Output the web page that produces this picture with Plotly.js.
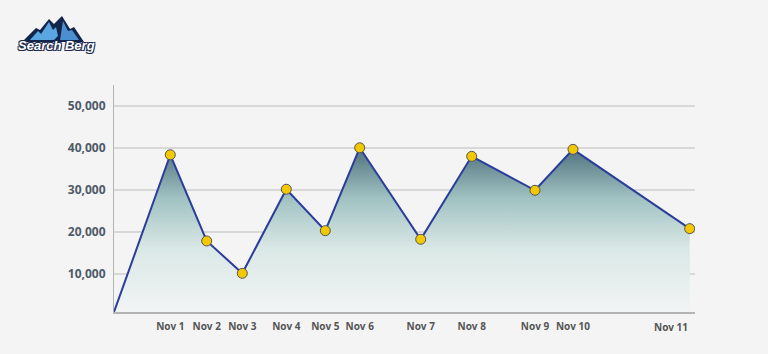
<!DOCTYPE html>
<html>
<head>
<meta charset="utf-8">
<script src="https://cdn.plot.ly/plotly-3.0.1.min.js"></script>
<style>
html,body{margin:0;padding:0;background:#f4f4f4;}
#chart{width:768px;height:354px;}
</style>
</head>
<body>
<div id="chart"></div>
<script>
// ---- data ----
var dayLabels = ["", "Nov 1", "Nov 2", "Nov 3", "Nov 4", "Nov 5", "Nov 6", "Nov 7", "Nov 8", "Nov 9", "Nov 10", "Nov 11"];
var timeOffset = [0, 56.3, 92.7, 128.3, 172.3, 211.3, 245.7, 306.7, 357.7, 421, 459, 575.7];
var visits = [1000, 38400, 17900, 10200, 30200, 20350, 40070, 18300, 38030, 29950, 39690, 20830];
var yTicks = [10000, 20000, 30000, 40000, 50000];

// ---- geometry helpers for the logo (decoration only) ----
var L = 114, R = 695, T = 85, B = 312;
function px(x){ return (x - L) / (R - L); }
function py(y){ return (B - y) / (B - T); }
function path(pts){
  return pts.map(function(p, i){ return (i ? 'L' : 'M') + px(p[0]).toFixed(4) + ',' + py(p[1]).toFixed(4); }).join(' ') + ' Z';
}

var markerX = timeOffset.slice(1), markerY = visits.slice(1);
var tickX = timeOffset.slice(1, 11), tickT = dayLabels.slice(1, 11);

var traces = [
  {
    x: timeOffset, y: visits, type: 'scatter', mode: 'lines',
    line: {color: '#2a3d9c', width: 2},
    fill: 'tozeroy',
    fillgradient: {
      type: 'vertical',
      colorscale: [[0, 'rgb(243,245,245)'], [0.4, 'rgb(218,232,230)'], [0.7, 'rgb(160,194,194)'], [1, 'rgb(78,113,124)']]
    },
    hoverinfo: 'skip', showlegend: false
  },
  {
    x: markerX, y: markerY, type: 'scatter', mode: 'markers',
    marker: {color: '#f3c800', size: 10, line: {color: '#555555', width: 1}},
    showlegend: false
  }
];

var tickFont = {family: 'Open Sans, Arial, sans-serif', size: 10, color: '#555', weight: 700};

var annotations = [
  {
    text: 'Search Berg', xref: 'paper', yref: 'paper', x: px(57), y: py(45.5),
    xanchor: 'center', yanchor: 'middle', showarrow: false,
    font: {family: 'Liberation Sans, Arial, sans-serif', size: 13, color: '#ffffff', weight: 700, style: 'italic',
           shadow: '1px 1px 0 #1b2a4e, -1px -1px 0 #1b2a4e, 1px -1px 0 #1b2a4e, -1px 1px 0 #1b2a4e'}
  },
  {
    text: dayLabels[11], xref: 'x', yref: 'paper', x: timeOffset[11], y: 0,
    xanchor: 'right', yanchor: 'top', yshift: -6, showarrow: false,
    font: tickFont
  }
];

var shapes = [
  {type: 'path', xref: 'paper', yref: 'paper', layer: 'above',
   path: path([[22,42],[36,28],[40,30],[49,19],[54,24],[62,16],[70,29],[74,27],[84,42]]),
   fillcolor: '#13254a', line: {width: 0}},
  {type: 'path', xref: 'paper', yref: 'paper', layer: 'above',
   path: path([[30,40],[38,31],[41,34],[49,22],[53,30],[56,27],[58,36],[54,40]]),
   fillcolor: '#5aa6e0', line: {width: 0}},
  {type: 'path', xref: 'paper', yref: 'paper', layer: 'above',
   path: path([[60,40],[63,21],[68,31],[72,30],[79,40]]),
   fillcolor: '#4c8fd0', line: {width: 0}}
];

var layout = {
  width: 768, height: 354,
  margin: {l: L, r: 768 - R, t: T, b: 354 - B, pad: 0},
  paper_bgcolor: '#f4f4f4', plot_bgcolor: '#f4f4f4',
  showlegend: false,
  xaxis: {
    range: [0, R - L], showgrid: false, zeroline: false,
    showline: true, linecolor: '#b4b4b4', linewidth: 2,
    tickmode: 'array', tickvals: tickX, ticktext: tickT,
    ticks: 'outside', ticklen: 4, tickcolor: 'rgba(0,0,0,0)',
    tickfont: tickFont, fixedrange: true
  },
  yaxis: {
    range: [1000, 55000], zeroline: false,
    showline: true, linecolor: '#b4b4b4', linewidth: 1,
    showgrid: true, gridcolor: '#d8d8d8', gridwidth: 1.5,
    tickmode: 'array', tickvals: yTicks, tickformat: ',',
    ticks: 'outside', ticklen: 5, tickcolor: 'rgba(0,0,0,0)',
    tickfont: {family: 'Open Sans, Arial, sans-serif', size: 12, color: '#4e5a67', weight: 700},
    fixedrange: true
  },
  shapes: shapes,
  annotations: annotations
};

Plotly.newPlot('chart', traces, layout, {displayModeBar: false, staticPlot: true});
</script>
</body>
</html>
